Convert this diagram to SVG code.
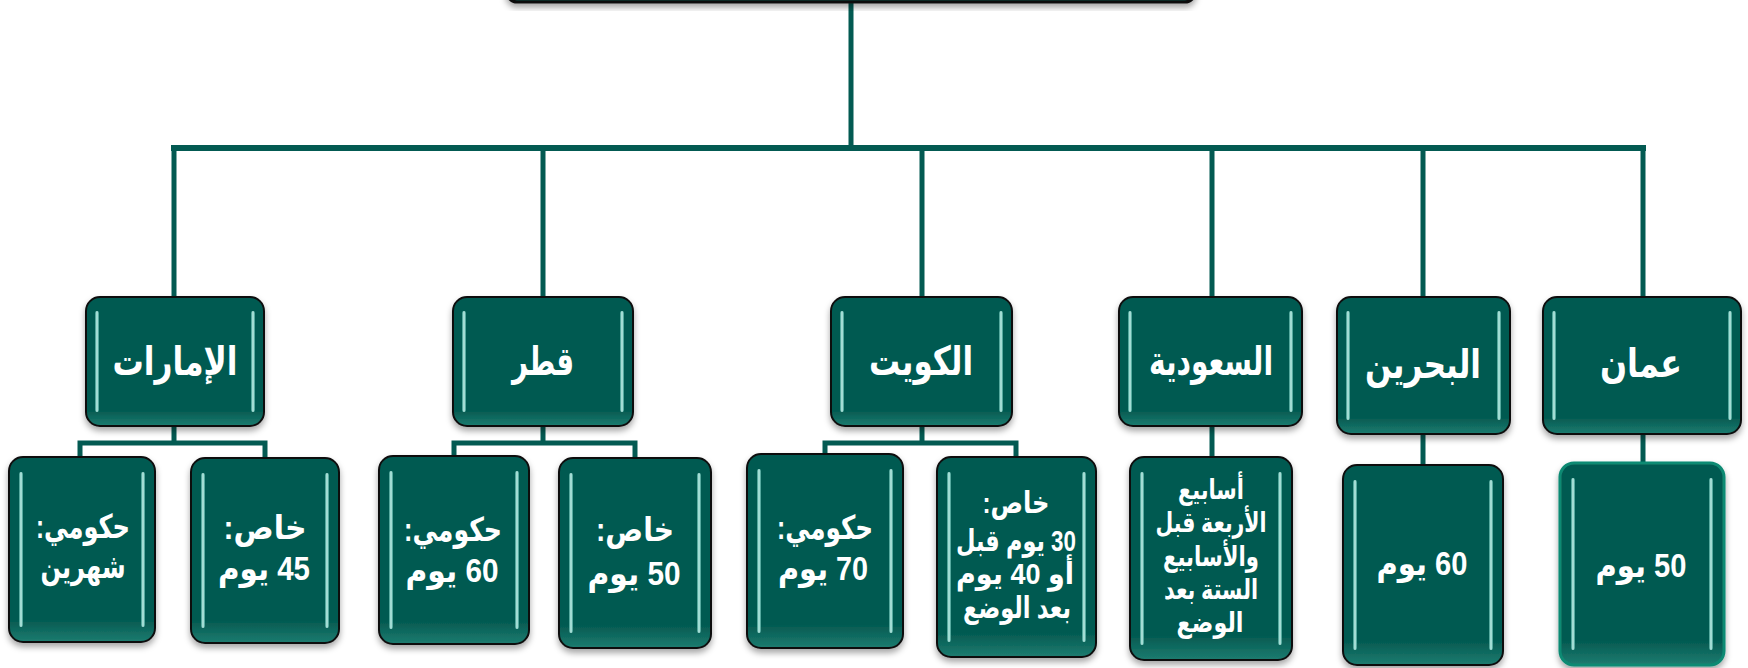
<svg xmlns="http://www.w3.org/2000/svg" width="1748" height="668" viewBox="0 0 1748 668">
<defs>
<linearGradient id="bf" x1="0" y1="0" x2="0" y2="1">
<stop offset="0" stop-color="#045a51"/>
<stop offset="0.88" stop-color="#045a51"/>
<stop offset="1" stop-color="#1d7c70"/>
</linearGradient>
<linearGradient id="hl" x1="0" y1="0" x2="1" y2="0">
<stop offset="0" stop-color="#2f8f83"/>
<stop offset="0.5" stop-color="#c9f6ef"/>
<stop offset="1" stop-color="#2f8f83"/>
</linearGradient>
<filter id="sh" x="-10%" y="-10%" width="120%" height="130%">
<feDropShadow dx="0" dy="4" stdDeviation="3" flood-color="#000" flood-opacity="0.35"/>
</filter>
</defs>
<style>
.box{fill:url(#bf);stroke:#111;stroke-width:2;filter:url(#sh)}
.hl{fill:url(#hl)}
.c{fill:none;stroke:#035a52;stroke-width:5}
.bus{fill:none;stroke:#035a52;stroke-width:6}
text{fill:#fff;font-family:"Liberation Sans","DejaVu Sans",sans-serif;font-weight:bold;text-anchor:middle;direction:rtl}
.t{font-size:40px}
.v{font-size:33px}
.s{font-size:30px}
.x{font-size:28px}
</style>

<g id="connectors">
<line class="c" x1="851" y1="0" x2="851" y2="148"/>
<line class="bus" x1="171" y1="148" x2="1646" y2="148"/>
<line class="c" x1="174" y1="148" x2="174" y2="297"/>
<line class="c" x1="543" y1="148" x2="543" y2="297"/>
<line class="c" x1="922" y1="148" x2="922" y2="297"/>
<line class="c" x1="1212" y1="148" x2="1212" y2="297"/>
<line class="c" x1="1423" y1="148" x2="1423" y2="297"/>
<line class="c" x1="1643" y1="148" x2="1643" y2="297"/>
<path class="c" d="M174 426 V443 M80 457 V443 H265 V458"/>
<path class="c" d="M543 426 V443 M454 456 V443 H635 V458"/>
<path class="c" d="M922 426 V443 M825 454 V443 H1016 V457"/>
<line class="c" x1="1212" y1="426" x2="1212" y2="457"/>
<line class="c" x1="1423" y1="434" x2="1423" y2="465"/>
<line class="c" x1="1643" y1="434" x2="1643" y2="463"/>
</g>

<g id="root">
<rect x="507" y="-40" width="688" height="42" rx="10" fill="#03463f" stroke="#111" stroke-width="3" filter="url(#sh)"/>
</g>

<g id="uae">
<rect class="box" x="86" y="297" width="178" height="129" rx="14"/>
<rect class="hl" x="95" y="311" width="4" height="101" rx="2"/>
<rect class="hl" x="251" y="311" width="4" height="101" rx="2"/>
<text class="t" x="175" y="375" textLength="125" lengthAdjust="spacingAndGlyphs">الإمارات</text>
</g>
<g id="qatar">
<rect class="box" x="453" y="297" width="180" height="129" rx="14"/>
<rect class="hl" x="462" y="311" width="4" height="101" rx="2"/>
<rect class="hl" x="620" y="311" width="4" height="101" rx="2"/>
<text class="t" x="543" y="375" textLength="62" lengthAdjust="spacingAndGlyphs">قطر</text>
</g>
<g id="kuwait">
<rect class="box" x="831" y="297" width="181" height="129" rx="14"/>
<rect class="hl" x="840" y="311" width="4" height="101" rx="2"/>
<rect class="hl" x="999" y="311" width="4" height="101" rx="2"/>
<text class="t" x="921" y="375" textLength="104" lengthAdjust="spacingAndGlyphs">الكويت</text>
</g>
<g id="saudi">
<rect class="box" x="1119" y="297" width="183" height="129" rx="14"/>
<rect class="hl" x="1128" y="311" width="4" height="101" rx="2"/>
<rect class="hl" x="1289" y="311" width="4" height="101" rx="2"/>
<text class="t" x="1211" y="375" textLength="124" lengthAdjust="spacingAndGlyphs">السعودية</text>
</g>
<g id="bahrain">
<rect class="box" x="1337" y="297" width="173" height="137" rx="14"/>
<rect class="hl" x="1346" y="311" width="4" height="109" rx="2"/>
<rect class="hl" x="1497" y="311" width="4" height="109" rx="2"/>
<text class="t" x="1423" y="378" textLength="116" lengthAdjust="spacingAndGlyphs">البحرين</text>
</g>
<g id="oman">
<rect class="box" x="1543" y="297" width="198" height="137" rx="14"/>
<rect class="hl" x="1552" y="311" width="4" height="109" rx="2"/>
<rect class="hl" x="1728" y="311" width="4" height="109" rx="2"/>
<text class="t" x="1641" y="377" textLength="82" lengthAdjust="spacingAndGlyphs">عمان</text>
</g>

<g id="uae-gov">
<rect class="box" x="9" y="457" width="146" height="185" rx="14"/>
<rect class="hl" x="19" y="472" width="4" height="155" rx="2"/>
<rect class="hl" x="141" y="472" width="4" height="155" rx="2"/>
<text class="v" x="83" y="538" textLength="94" lengthAdjust="spacingAndGlyphs">حكومي:</text>
<text class="v" x="83" y="578" textLength="85" lengthAdjust="spacingAndGlyphs">شهرين</text>
</g>
<g id="uae-pvt">
<rect class="box" x="191" y="458" width="148" height="185" rx="14"/>
<rect class="hl" x="201" y="473" width="4" height="155" rx="2"/>
<rect class="hl" x="325" y="473" width="4" height="155" rx="2"/>
<text class="v" x="265" y="539" textLength="83" lengthAdjust="spacingAndGlyphs">خاص:</text>
<text class="v" x="264" y="580" textLength="92" lengthAdjust="spacingAndGlyphs">45 يوم</text>
</g>
<g id="qatar-gov">
<rect class="box" x="379" y="456" width="150" height="188" rx="14"/>
<rect class="hl" x="389" y="471" width="4" height="158" rx="2"/>
<rect class="hl" x="515" y="471" width="4" height="158" rx="2"/>
<text class="v" x="453" y="541" textLength="98" lengthAdjust="spacingAndGlyphs">حكومي:</text>
<text class="v" x="452" y="582" textLength="93" lengthAdjust="spacingAndGlyphs">60 يوم</text>
</g>
<g id="qatar-pvt">
<rect class="box" x="559" y="458" width="152" height="190" rx="14"/>
<rect class="hl" x="569" y="473" width="4" height="160" rx="2"/>
<rect class="hl" x="697" y="473" width="4" height="160" rx="2"/>
<text class="v" x="635" y="541" textLength="78" lengthAdjust="spacingAndGlyphs">خاص:</text>
<text class="v" x="634" y="585" textLength="93" lengthAdjust="spacingAndGlyphs">50 يوم</text>
</g>
<g id="kuwait-gov">
<rect class="box" x="747" y="454" width="156" height="194" rx="14"/>
<rect class="hl" x="757" y="469" width="4" height="164" rx="2"/>
<rect class="hl" x="889" y="469" width="4" height="164" rx="2"/>
<text class="v" x="825" y="539" textLength="96" lengthAdjust="spacingAndGlyphs">حكومي:</text>
<text class="v" x="823" y="580" textLength="90" lengthAdjust="spacingAndGlyphs">70 يوم</text>
</g>
<g id="kuwait-pvt">
<rect class="box" x="937" y="457" width="159" height="200" rx="14"/>
<rect class="hl" x="947" y="472" width="4" height="170" rx="2"/>
<rect class="hl" x="1082" y="472" width="4" height="170" rx="2"/>
<text class="s" x="1016" y="513" textLength="67" lengthAdjust="spacingAndGlyphs">خاص:</text>
<text class="s" x="1016" y="551" textLength="120" lengthAdjust="spacingAndGlyphs">30 يوم قبل</text>
<text class="s" x="1015" y="584" textLength="118" lengthAdjust="spacingAndGlyphs">أو  40 يوم</text>
<text class="s" x="1017" y="618" textLength="108" lengthAdjust="spacingAndGlyphs">بعد الوضع</text>
</g>
<g id="saudi-c">
<rect class="box" x="1130" y="457" width="162" height="203" rx="14"/>
<rect class="hl" x="1140" y="472" width="4" height="173" rx="2"/>
<rect class="hl" x="1278" y="472" width="4" height="173" rx="2"/>
<text class="x" x="1211" y="499" textLength="66" lengthAdjust="spacingAndGlyphs">أسابيع</text>
<text class="x" x="1211" y="532" textLength="111" lengthAdjust="spacingAndGlyphs">الأربعة قبل</text>
<text class="x" x="1211" y="566" textLength="96" lengthAdjust="spacingAndGlyphs">والأسابيع</text>
<text class="x" x="1211" y="599" textLength="94" lengthAdjust="spacingAndGlyphs">الستة بعد</text>
<text class="x" x="1210" y="632" textLength="67" lengthAdjust="spacingAndGlyphs">الوضع</text>
</g>
<g id="bahrain-c">
<rect class="box" x="1343" y="465" width="160" height="200" rx="14"/>
<rect class="hl" x="1353" y="480" width="4" height="170" rx="2"/>
<rect class="hl" x="1489" y="480" width="4" height="170" rx="2"/>
<text class="v" x="1422" y="575" textLength="91" lengthAdjust="spacingAndGlyphs">60 يوم</text>
</g>
<g id="oman-c">
<rect class="box" x="1560" y="463" width="164" height="202" rx="14" style="stroke:#0d8a73;stroke-width:3"/>
<rect class="hl" x="1571" y="478" width="4" height="172" rx="2"/>
<rect class="hl" x="1709" y="478" width="4" height="172" rx="2"/>
<text class="v" x="1641" y="577" textLength="91" lengthAdjust="spacingAndGlyphs">50 يوم</text>
</g>
</svg>
